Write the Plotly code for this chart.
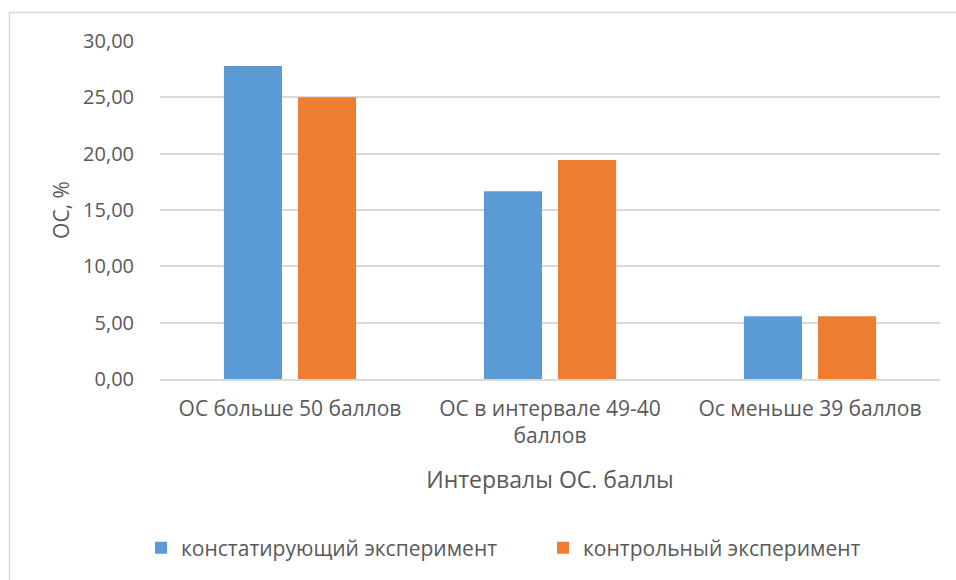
import plotly.graph_objects as go

# Категории интервалов и доли участников (%)
categories = ["ОС больше 50 баллов", "ОС в интервале 49-40<br>баллов", "Ос меньше 39 баллов"]
ascertaining = [27.78, 16.67, 5.56]
control = [25.00, 19.44, 5.56]
series_names = ["констатирующий эксперимент", "контрольный эксперимент"]
y_ticks = [0, 5, 10, 15, 20, 25, 30]

W, H = 956, 580
L, R, T, B = 160, 16, 41, 201
pw, ph = W - L - R, H - T - B

FONT = "Open Sans"
TXT = "#595959"

fig = go.Figure()
fig.add_bar(x=categories, y=ascertaining, name=series_names[0],
            marker=dict(color="#5B9BD5", line=dict(width=0)))
fig.add_bar(x=categories, y=control, name=series_names[1],
            marker=dict(color="#ED7D31", line=dict(width=0)))

# outer chart frame (left/top edges visible, right/bottom run off the page)
fig.add_shape(type="rect", xref="paper", yref="paper", layer="below",
              x0=(9.5 - L) / pw, x1=(W + 5 - L) / pw,
              y0=-(H + 5 - T - ph) / ph, y1=1 + (T - 12.5) / ph,
              line=dict(color="#D9D9D9", width=1.5), fillcolor="rgba(0,0,0,0)")

fig.update_layout(
    width=W, height=H,
    margin=dict(l=L, r=R, t=T, b=B),
    paper_bgcolor="white", plot_bgcolor="white",
    barmode="group", bargap=0.43, bargroupgap=0.216,
    separators=",.",
    font=dict(family=FONT, color=TXT, size=20),
    showlegend=True,
    legend=dict(orientation="h", x=(141 - L) / pw, xanchor="left",
                y=-0.5, yanchor="middle",
                font=dict(size=21, color=TXT), itemwidth=30,
                entrywidth=357, entrywidthmode="pixels"),
    xaxis=dict(showgrid=False, showline=True, linecolor="#D9D9D9", linewidth=1.5,
               ticks="", tickfont=dict(size=21, color=TXT), ticklabelstandoff=10,
               title=dict(text="Интервалы ОС. баллы", font=dict(size=23, color=TXT), standoff=24)),
    yaxis=dict(range=[0, 30], tickvals=y_ticks, tickformat=".2f",
               showgrid=True, gridcolor="#D9D9D9", gridwidth=1.5,
               zeroline=False, showline=False, ticks="",
               tickfont=dict(size=20, color=TXT), ticklabelstandoff=25,
               title=dict(text="ОС, %", font=dict(size=21, color=TXT), standoff=7)),
)

fig.write_html("out.html")
